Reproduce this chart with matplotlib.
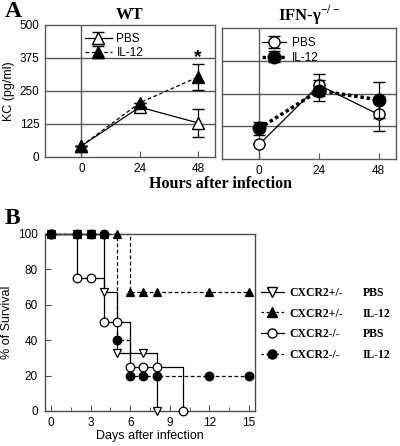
import matplotlib
matplotlib.use("Agg")
import matplotlib.pyplot as plt
from matplotlib.lines import Line2D

plt.rcParams['font.family'] = ['Liberation Sans', 'DejaVu Sans']
plt.rcParams['mathtext.fontset'] = 'custom'
plt.rcParams['mathtext.rm'] = 'Liberation Serif:bold'

SERIF = ['Liberation Serif', 'DejaVu Serif']

# ---- Panel A data ----
hours = [0, 24, 48]
wt_pbs = [42, 189, 129]
wt_pbs_err = [0, 0, 53]
wt_il12 = [42, 205, 303]
wt_il12_err = [0, 0, 50]

ko_pbs = [56, 282, 170]
ko_pbs_err = [0, 42, 65]
ko_il12 = [117, 261, 226]
ko_il12_err = [25, 40, 68]

a_yticks = [0, 125, 250, 375, 500]
a_xticks = [0, 24, 48]

# ---- Panel B data ----
b_days_het_pbs = [0, 2, 3, 4, 5, 7, 8]
b_surv_het_pbs = [100, 100, 100, 67, 33, 33, 0]
b_days_het_il12 = [0, 2, 3, 4, 5, 6, 7, 8, 12, 15]
b_surv_het_il12 = [100, 100, 100, 100, 100, 67, 67, 67, 67, 67]
b_days_ko_pbs = [0, 2, 3, 4, 5, 6, 7, 8, 10]
b_surv_ko_pbs = [100, 75, 75, 50, 50, 25, 25, 25, 0]
b_days_ko_il12 = [0, 2, 3, 4, 5, 6, 7, 8, 12, 15]
b_surv_ko_il12 = [100, 100, 100, 100, 40, 20, 20, 20, 20, 20]
b_genotypes = ["CXCR2+/-", "CXCR2+/-", "CXCR2-/-", "CXCR2-/-"]
b_treatments = ["PBS", "IL-12", "PBS", "IL-12"]

W, H = 400, 446
fig = plt.figure(figsize=(4.0, 4.46), dpi=100)

def style_a(ax, show_ylabels):
    ax.set_xlim(-15, 55)
    ax.set_ylim(0, 500)
    ax.set_xticks(a_xticks)
    ax.set_yticks(a_yticks)
    for y in [125, 250, 375]:
        ax.axhline(y, color='0.35', lw=1.0, zorder=0)
    ax.axvline(0, color='0.35', lw=1.0, zorder=0)
    ax.tick_params(axis='x', direction='in', length=4, labelsize=8.5, pad=4, color='0.35')
    ax.tick_params(axis='y', length=0, labelsize=8.5, pad=4)
    if not show_ylabels:
        ax.set_yticklabels([])
    for s in ax.spines.values():
        s.set_color('0.35')
        s.set_linewidth(1.0)

# Left: WT
ax1 = fig.add_axes([0.1125, 0.648, 0.425, 0.296])
style_a(ax1, True)
ax1.errorbar(hours, wt_pbs, yerr=wt_pbs_err, color='black', lw=0.9, marker='^',
             mfc='white', mec='black', ms=8, capsize=4, elinewidth=0.9, label='PBS', zorder=3)
ax1.errorbar(hours, wt_il12, yerr=wt_il12_err, color='black', lw=0.9, ls=(0, (3, 2)), marker='^',
             mfc='black', mec='black', ms=8, capsize=4, elinewidth=0.9, label='IL-12', zorder=4)
ax1.text(48, 378, '*', ha='center', va='center', fontsize=14, fontweight='bold')
ax1.set_ylabel('KC (pg/ml)', fontsize=9, labelpad=3)
ax1.legend(loc='upper left', bbox_to_anchor=(0.17, 1.02), frameon=False, fontsize=8.5,
           handlelength=2.3, handletextpad=0.4, labelspacing=0.2)
ax1.set_title('WT', fontsize=12, fontweight='bold', family=SERIF, pad=4)

# Right: IFN-g -/-
ax2 = fig.add_axes([0.555, 0.6435, 0.435, 0.2937])
style_a(ax2, False)
ax2.errorbar(hours, ko_pbs, yerr=ko_pbs_err, color='black', lw=0.9, marker='o',
             mfc='white', mec='black', ms=8, capsize=4, elinewidth=0.9, label='PBS', zorder=3)
ax2.errorbar(hours, ko_il12, yerr=ko_il12_err, color='black', lw=2.5, ls=(0, (1, 0.8)), marker='o',
             mfc='black', mec='black', ms=9, capsize=4, elinewidth=0.9, label='IL-12', zorder=4)
ax2.legend(loc='upper left', bbox_to_anchor=(0.17, 1.01), frameon=False, fontsize=8.5,
           handlelength=2.0, handletextpad=0.5, labelspacing=0.2)
ax2.set_title('IFN-γ$^{-/-}$', fontsize=12, fontweight='bold', family=SERIF, pad=5)

fig.text(0.55, 0.587, 'Hours after infection', ha='center', va='center', fontsize=11.5,
         fontweight='bold', family=SERIF)
fig.text(0.012, 0.975, 'A', ha='left', va='center', fontsize=17, fontweight='bold', family=SERIF)
fig.text(0.012, 0.51, 'B', ha='left', va='center', fontsize=17, fontweight='bold', family=SERIF)

# Panel B
ax3 = fig.add_axes([0.1125, 0.0785, 0.525, 0.397])
ax3.set_xlim(-0.45, 15.45)
ax3.set_ylim(0, 100)
ax3.set_xticks([0, 3, 6, 9, 12, 15])
ax3.set_xticks([1.5, 4.5, 7.5, 10.5, 13.5], minor=True)
ax3.set_yticks([0, 20, 40, 60, 80, 100])
ax3.tick_params(axis='both', which='both', direction='in', labelsize=8.5, color='0.3')
ax3.tick_params(axis='both', which='major', length=4)
ax3.tick_params(axis='x', which='minor', length=3)
ax3.tick_params(axis='x', pad=4)
ax3.tick_params(axis='y', pad=5)
for s in ax3.spines.values():
    s.set_color('0.3')
    s.set_linewidth(1.0)
ax3.set_xlabel('Days after infection', fontsize=9, labelpad=1)
ax3.set_ylabel('% of Survival', fontsize=9, labelpad=4)

series = [
    (b_days_het_pbs, b_surv_het_pbs, 'v', 'white', '-'),
    (b_days_ko_pbs, b_surv_ko_pbs, 'o', 'white', '-'),
    (b_days_het_il12, b_surv_het_il12, '^', 'black', (0, (3, 2))),
    (b_days_ko_il12, b_surv_ko_il12, 'o', 'black', (0, (3, 2))),
]
for d, s, m, fc, ls in series:
    ax3.step(d, s, where='post', color='black', lw=0.9, ls=ls, zorder=2, clip_on=False)
    ax3.plot(d, s, ls='none', marker=m, mfc=fc, mec='black', ms=6.2, mew=0.9, zorder=3, clip_on=False)

handles = [
    Line2D([], [], color='black', lw=0.9, ls='-', marker='v', mfc='white', mec='black', ms=6.5),
    Line2D([], [], color='black', lw=0.9, ls=(0, (2, 2)), marker='^', mfc='black', mec='black', ms=6.5),
    Line2D([], [], color='black', lw=0.9, ls='-', marker='o', mfc='white', mec='black', ms=6.5),
    Line2D([], [], color='black', lw=0.9, ls=(0, (2, 2)), marker='o', mfc='black', mec='black', ms=6.5),
]
leg = fig.legend(handles, b_genotypes, loc='upper left', bbox_to_anchor=(0.625, 0.381), frameon=False,
                 prop={'family': SERIF, 'weight': 'bold', 'size': 8.5},
                 handlelength=2.0, handletextpad=0.4, labelspacing=0.75)

fig.canvas.draw()
renderer = fig.canvas.get_renderer()
for t, treat in zip(leg.get_texts(), b_treatments):
    bb = t.get_window_extent(renderer)
    yc = (bb.y0 + bb.y1) / 2 / H
    fig.text(363 / W, yc, treat, ha='left', va='center', family=SERIF, fontweight='bold', fontsize=8.5)

fig.savefig('out.png', dpi=100)
